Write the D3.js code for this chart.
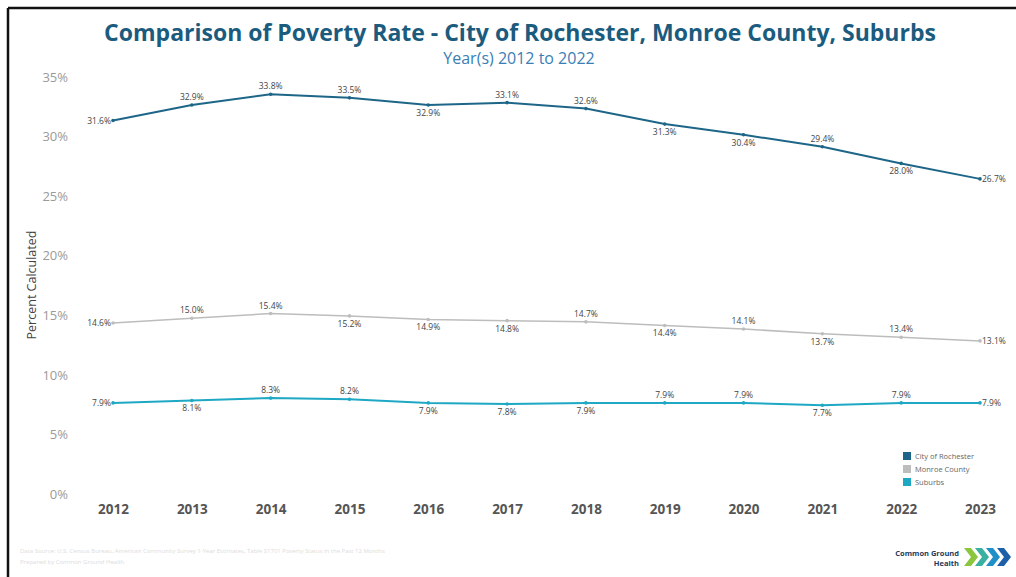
<!DOCTYPE html>
<html>
<head>
    <title>Comparison of Poverty Rate</title>
    <script src="https://d3js.org/d3.v7.min.js"></script>
    <style>
        body { margin: 0; background: #fff; }
        text { font-family: "Open Sans", "DejaVu Sans", sans-serif; }
        .axis path, .axis line { display: none; }
        .y.axis text { fill: #9a9a9a; font-size: 13px; }
        .x.axis text { fill: #555; font-size: 13.5px; font-weight: bold; }
        .lbl { font-size: 8.5px; fill: #444; }
    </style>
</head>
<body>
<div id="chart"></div>
<script>
    // data
    var years = ["2012", "2013", "2014", "2015", "2016", "2017", "2018", "2019", "2020", "2021", "2022", "2023"];
    var rochester = [31.6, 32.9, 33.8, 33.5, 32.9, 33.1, 32.6, 31.3, 30.4, 29.4, 28.0, 26.7];
    var monroe = [14.6, 15.0, 15.4, 15.2, 14.9, 14.8, 14.7, 14.4, 14.1, 13.7, 13.4, 13.1];
    var suburbs = [7.9, 8.1, 8.3, 8.2, 7.9, 7.8, 7.9, 7.9, 7.9, 7.7, 7.9, 7.9];
    // label placement: l = left, r = right, a = above, b = below
    var rochesterPos = ["l", "a", "a", "a", "b", "a", "a", "b", "b", "a", "b", "r"];
    var monroePos = ["l", "a", "a", "b", "b", "b", "a", "b", "a", "b", "a", "r"];
    var suburbsPos = ["l", "b", "a", "a", "b", "b", "b", "a", "a", "b", "a", "r"];
    var yTicks = [0, 5, 10, 15, 20, 25, 30, 35];

    var series = [
        { name: "City of Rochester", values: rochester, pos: rochesterPos, color: "#1d6688", width: 2 },
        { name: "Monroe County", values: monroe, pos: monroePos, color: "#bdbdbd", width: 1.5 },
        { name: "Suburbs", values: suburbs, pos: suburbsPos, color: "#1ea8c4", width: 2 }
    ];

    var width = 1016, height = 577;

    var svg = d3.select("#chart").append("svg")
        .attr("width", width)
        .attr("height", height);

    // frame edges
    svg.append("line").attr("x1", 8).attr("y1", 8).attr("x2", width).attr("y2", 8)
        .attr("stroke", "#111").attr("stroke-width", 2.5);
    svg.append("line").attr("x1", 8).attr("y1", 8).attr("x2", 8).attr("y2", height)
        .attr("stroke", "#111").attr("stroke-width", 2.5);

    // titles
    svg.append("text")
        .attr("x", 520).attr("y", 41)
        .attr("text-anchor", "middle")
        .style("font-size", "23px").style("font-weight", "bold").style("fill", "#1b5b7e")
        .text("Comparison of Poverty Rate - City of Rochester, Monroe County, Suburbs");
    svg.append("text")
        .attr("x", 519).attr("y", 64)
        .attr("text-anchor", "middle")
        .style("font-size", "16px").style("fill", "#3b7eb5")
        .text("Year(s) 2012 to 2022");

    var x = d3.scalePoint()
        .domain(years)
        .range([113, 980]);

    var y = d3.scaleLinear()
        .domain([0, 35])
        .range([497, 80]);

    // y axis
    svg.append("g")
        .attr("class", "y axis")
        .attr("transform", "translate(70,-3)")
        .call(d3.axisLeft(y).tickValues(yTicks).tickSize(0).tickPadding(2).tickFormat(d => d + "%"));

    // x axis
    svg.append("g")
        .attr("class", "x axis")
        .attr("transform", "translate(0,500)")
        .call(d3.axisBottom(x).tickSize(0).tickPadding(4));

    svg.append("text")
        .attr("transform", "translate(36,285) rotate(-90)")
        .attr("text-anchor", "middle")
        .style("font-size", "12.5px").style("fill", "#444")
        .text("Percent Calculated");

    var line = d3.line()
        .x((d, i) => x(years[i]))
        .y(d => y(d));

    series.forEach(function(s) {
        svg.append("path")
            .datum(s.values)
            .attr("fill", "none")
            .attr("stroke", s.color)
            .attr("stroke-width", s.width)
            .attr("d", line);

        svg.selectAll(null)
            .data(s.values)
            .enter().append("circle")
            .attr("cx", (d, i) => x(years[i]))
            .attr("cy", d => y(d))
            .attr("r", 1.8)
            .attr("fill", s.color);

        svg.selectAll(null)
            .data(s.values)
            .enter().append("text")
            .attr("class", "lbl")
            .attr("x", function(d, i) {
                var p = s.pos[i], cx = x(years[i]);
                if (p === "l") return cx - 2;
                if (p === "r") return cx + 2;
                return cx;
            })
            .attr("y", function(d, i) {
                var p = s.pos[i], cy = y(d);
                if (p === "a") return cy - 5;
                if (p === "b") return cy + 11;
                return cy + 3;
            })
            .attr("text-anchor", function(d, i) {
                var p = s.pos[i];
                return p === "l" ? "end" : (p === "r" ? "start" : "middle");
            })
            .text(d => d.toFixed(1) + "%");
    });

    // legend
    var legend = svg.append("g").attr("transform", "translate(903,452)");
    series.forEach(function(s, i) {
        legend.append("rect")
            .attr("x", 0).attr("y", i * 13)
            .attr("width", 8).attr("height", 8)
            .attr("fill", s.color);
        legend.append("text")
            .attr("x", 12).attr("y", i * 13 + 7)
            .style("font-size", "7.5px").style("fill", "#666")
            .text(s.name);
    });

    // footer note
    svg.append("text")
        .attr("x", 20).attr("y", 553)
        .style("font-size", "6px").style("fill", "#dcdcdc")
        .text("Data Source: U.S. Census Bureau, American Community Survey 1-Year Estimates, Table S1701 Poverty Status in the Past 12 Months");
    svg.append("text")
        .attr("x", 20).attr("y", 564)
        .style("font-size", "6px").style("fill", "#dcdcdc")
        .text("Prepared by Common Ground Health");

    // logo
    var logo = svg.append("g");
    logo.append("text")
        .attr("x", 959).attr("y", 556)
        .attr("text-anchor", "end")
        .style("font-size", "7.5px").style("font-weight", "bold").style("fill", "#1e3a5a")
        .text("Common Ground");
    logo.append("text")
        .attr("x", 959).attr("y", 566)
        .attr("text-anchor", "end")
        .style("font-size", "7.5px").style("font-weight", "bold").style("fill", "#1e3a5a")
        .text("Health");
    var chev = ["#8cc63f", "#3ab0a0", "#1f8fc8", "#1d5fa8"];
    chev.forEach(function(c, i) {
        var x0 = 964 + i * 11;
        logo.append("path")
            .attr("d", "M" + x0 + ",548 L" + (x0 + 7) + ",548 L" + (x0 + 14) + ",557 L" + (x0 + 7) + ",566 L" + x0 + ",566 L" + (x0 + 7) + ",557 Z")
            .attr("fill", c);
    });
</script>
</body>
</html>
